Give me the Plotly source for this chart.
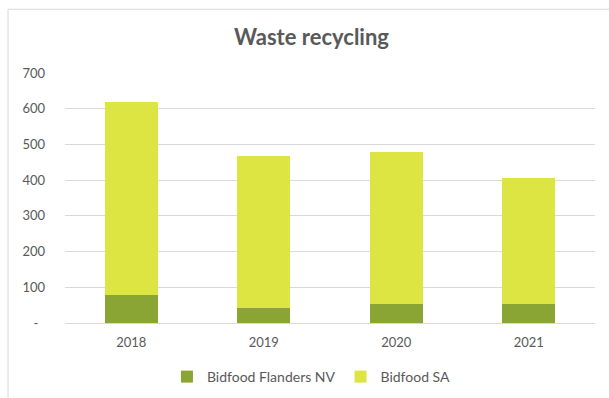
import plotly.graph_objects as go

years = ["2018", "2019", "2020", "2021"]
flanders_nv = [78, 42, 53, 54]
bidfood_sa = [540, 426, 426, 352]
y_ticks = [0, 100, 200, 300, 400, 500, 600, 700]
y_tick_labels = ["-  ", "100", "200", "300", "400", "500", "600", "700"]

FONT = "Lato, 'Open Sans', sans-serif"
GREY = "#595959"

fig = go.Figure()
fig.add_trace(go.Bar(x=years, y=flanders_nv, name="Bidfood Flanders NV",
                     marker=dict(color="#8BA534", line=dict(width=0))))
fig.add_trace(go.Bar(x=years, y=bidfood_sa, name="Bidfood SA",
                     marker=dict(color="#DDE542", line=dict(width=0))))

fig.update_layout(
    barmode="stack",
    bargap=0.6,
    width=609, height=398,
    margin=dict(l=65, r=14, t=73, b=75, autoexpand=False),
    paper_bgcolor="white", plot_bgcolor="white",
    font=dict(family=FONT, size=13, color=GREY),
    title=dict(text="<b>Waste recycling</b>", x=311.5 / 609, xanchor="center",
               y=1 - 37 / 398, yanchor="middle",
               font=dict(family=FONT, size=22, color=GREY)),
    legend=dict(orientation="h", x=0.465, xanchor="center",
                yref="container", y=1 - 377 / 398, yanchor="middle",
                font=dict(family=FONT, size=14, color=GREY),
                itemwidth=30, traceorder="normal"),
    showlegend=True,
    xaxis=dict(showgrid=False, showline=False, ticks="", ticklabelstandoff=10,
               tickfont=dict(size=13, color=GREY)),
    yaxis=dict(range=[0, 700], tickvals=y_ticks, ticktext=y_tick_labels,
               showgrid=True, gridcolor="#D9D9D9", gridwidth=1,
               zeroline=True, zerolinecolor="#D9D9D9", zerolinewidth=1,
               showline=False, ticks="", ticklabelstandoff=19,
               tickfont=dict(size=13, color=GREY)),
    shapes=[dict(type="rect", xref="paper", yref="paper",
                 x0=-0.1075, x1=1.2, y0=-0.4, y1=1.255,
                 line=dict(color="#D9D9D9", width=1), fillcolor="rgba(0,0,0,0)",
                 layer="below")],
)

fig.write_html("out.html")
